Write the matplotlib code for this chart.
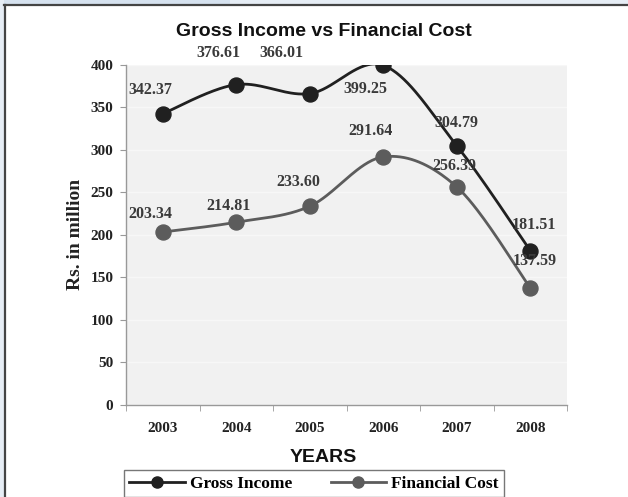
import numpy as np
import matplotlib
matplotlib.use("Agg")
import matplotlib.pyplot as plt
from matplotlib.lines import Line2D
from matplotlib.patches import Rectangle

years = ["2003", "2004", "2005", "2006", "2007", "2008"]
gross_income = [342.37, 376.61, 366.01, 399.25, 304.79, 181.51]
financial_cost = [203.34, 214.81, 233.60, 291.64, 256.39, 137.59]
y_ticks = [0, 50, 100, 150, 200, 250, 300, 350, 400]

# label offsets in pixels (dx, dy) for each data label
gross_offsets = [(-12, 24), (-18, 32), (-28, 41), (-18, -24), (0, 23), (4, 26)]
cost_offsets = [(-12, 18), (-8, 16), (-11, 24), (-13, 26), (-2, 21), (5, 27)]

serif = ["Liberation Serif", "DejaVu Serif"]
sans = ["Liberation Sans", "DejaVu Sans"]


def smooth_curve(xs, ys, n=40):
    """Catmull-Rom style Bezier smoothing through the points."""
    pts = np.column_stack([xs, ys]).astype(float)
    ext = np.vstack([pts[0], pts, pts[-1]])
    out = []
    t = np.linspace(0, 1, n)[:, None]
    for i in range(len(pts) - 1):
        p0, p1, p2, p3 = ext[i], ext[i + 1], ext[i + 2], ext[i + 3]
        c1 = p1 + (p2 - p0) / 6.0
        c2 = p2 - (p3 - p1) / 6.0
        seg = ((1 - t) ** 3) * p1 + 3 * ((1 - t) ** 2) * t * c1 \
            + 3 * (1 - t) * t ** 2 * c2 + t ** 3 * p2
        out.append(seg if i == 0 else seg[1:])
    seg = np.vstack(out)
    return seg[:, 0], seg[:, 1]


fig = plt.figure(figsize=(6.28, 4.97), dpi=100)
fig.patch.set_facecolor("white")

# page frame: pale strip with a dark rule at top and left
W, H = 628, 497
fig.patches.append(Rectangle((0, 1 - 4 / H), 1, 4 / H, transform=fig.transFigure,
                             facecolor="#e6edf5", edgecolor="none", zorder=0))
fig.patches.append(Rectangle((0, 1 - 4 / H), 230 / W, 4 / H, transform=fig.transFigure,
                             facecolor="#d6e2ef", edgecolor="none", zorder=0))
fig.patches.append(Rectangle((0, 0), 4 / W, 1, transform=fig.transFigure,
                             facecolor="#e6edf5", edgecolor="none", zorder=0))
fig.add_artist(Line2D([4 / W, 1], [1 - 4.5 / H, 1 - 4.5 / H], transform=fig.transFigure,
                      color="#444444", lw=1.6))
fig.add_artist(Line2D([4.5 / W, 4.5 / W], [0, 1 - 4.5 / H], transform=fig.transFigure,
                      color="#444444", lw=1.6))

ax = fig.add_axes([126 / W, 1 - 405 / H, (567 - 126) / W, (405 - 64.7) / H])
ax.set_facecolor("#f1f1f1")

x = np.arange(len(years))
ax.set_xlim(-0.5, len(years) - 0.5)
ax.set_ylim(0, 400)

for vals, color, offs in [(gross_income, "#202020", gross_offsets),
                          (financial_cost, "#5c5c5c", cost_offsets)]:
    sx, sy = smooth_curve(x, vals)
    ax.plot(sx, sy, color=color, lw=2.0, zorder=3)
    ax.plot(x, vals, "o", color=color, ms=10.8, zorder=4)
    for xi, v, (dx, dy) in zip(x, vals, offs):
        ax.annotate(f"{v:.2f}", (xi, v), xytext=(dx, dy), textcoords="offset pixels",
                    ha="center", va="center", fontsize=11.5, fontweight="bold",
                    family=serif, color="#3a3a3a", zorder=5)

ax.set_yticks(y_ticks)
ax.set_yticklabels([str(t) for t in y_ticks], fontsize=11, fontweight="bold",
                   family=serif, color="#222222")
ax.yaxis.grid(True, color="#f7f7f7", lw=1.0)
ax.set_axisbelow(True)

ax.set_xticks(x)
ax.set_xticklabels(years, fontsize=11, fontweight="bold", family=serif, color="#222222")
ax.set_xticks(np.arange(-0.5, len(years), 1), minor=True)
ax.tick_params(axis="x", which="major", length=0, pad=12)
ax.tick_params(axis="x", which="minor", length=4, color="#999999")
ax.tick_params(axis="y", length=4, color="#999999", pad=5)

for s in ["top", "right"]:
    ax.spines[s].set_visible(False)
for s in ["left", "bottom"]:
    ax.spines[s].set_color("#999999")
    ax.spines[s].set_linewidth(1.0)

ax.set_ylabel("Rs. in million", fontsize=14, fontweight="bold", family=serif,
              color="#222222", labelpad=5)
fig.text(323 / W, 1 - 458 / H, "YEARS", ha="center", va="center", fontsize=14,
         fontweight="bold", family=sans, color="#111111")
fig.text(324 / W, 1 - 32 / H, "Gross Income vs Financial Cost", ha="center", va="center",
         fontsize=14, fontweight="bold", family=sans, color="#111111")

handles = [Line2D([], [], color="#202020", lw=2, marker="o", ms=8),
           Line2D([], [], color="#5c5c5c", lw=2, marker="o", ms=8)]
leg = fig.legend(handles, ["Gross Income", "Financial Cost"], ncol=2,
                 loc="lower left", bbox_to_anchor=(124 / W, 0, (504 - 124) / W, 28 / H),
                 mode="expand", borderaxespad=0, frameon=True, fancybox=False,
                 handlelength=3.2, borderpad=0.3, columnspacing=2.0, handletextpad=0.3,
                 prop={"family": serif, "weight": "bold", "size": 12.5})
leg.get_frame().set_edgecolor("#555555")
leg.get_frame().set_linewidth(1.0)

fig.savefig("out.png", dpi=100, facecolor=fig.get_facecolor())
